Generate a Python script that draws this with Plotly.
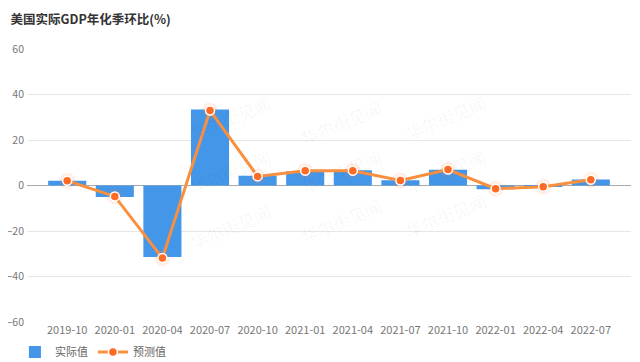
import plotly.graph_objects as go

categories = ["2019-10", "2020-01", "2020-04", "2020-07", "2020-10", "2021-01",
              "2021-04", "2021-07", "2021-10", "2022-01", "2022-04", "2022-07"]
actual = [2.1, -5.0, -31.4, 33.4, 4.3, 6.3, 6.7, 2.3, 6.9, -1.6, -0.6, 2.6]
forecast = [2.1, -4.8, -31.9, 33.0, 4.0, 6.5, 6.5, 2.2, 7.0, -1.4, -0.5, 2.5]
y_ticks = [-60, -40, -20, 0, 20, 40, 60]

fig = go.Figure()
fig.add_trace(go.Bar(
    x=categories, y=actual, name="实际值",
    marker=dict(color="#4496e8", line=dict(width=0)),
))
# glow under markers
fig.add_trace(go.Scatter(
    x=categories, y=forecast, mode="markers", showlegend=False, hoverinfo="skip",
    marker=dict(size=16, color="rgba(255,120,60,0.12)", line=dict(width=0)),
))
fig.add_trace(go.Scatter(
    x=categories, y=forecast, name="预测值", mode="lines+markers",
    line=dict(color="#f89040", width=3),
    marker=dict(size=9, color="#ff6b24", line=dict(color="white", width=1.5)),
))

# watermarks
for cx, cy in [(0.26, 0.86), (0.52, 0.84), (0.77, 0.86),
               (0.26, 0.55), (0.52, 0.55), (0.77, 0.55),
               (0.26, 0.24), (0.52, 0.26), (0.77, 0.28)]:
    fig.add_annotation(
        x=cx, y=cy, xref="paper", yref="paper", text="华尔街见闻",
        showarrow=False, textangle=-22,
        font=dict(size=17, color="rgba(0,0,0,0.045)", family="Noto Sans CJK SC"),
    )

fig.update_layout(
    width=632, height=354,
    margin=dict(l=19, r=9, t=41, b=40, autoexpand=False),
    paper_bgcolor="white", plot_bgcolor="white",
    font=dict(family="Noto Sans CJK SC, Noto Sans, sans-serif", color="#666", size=11),
    title=dict(text="<b>美国实际GDP年化季环比(%)</b>", xref="container", x=0.004, xanchor="left",
               yref="container", y=0.968, yanchor="middle", font=dict(size=12.5, color="#333")),
    bargap=0.2,
    showlegend=True,
    legend=dict(orientation="h", x=-0.02, xanchor="left", y=-0.11, yanchor="middle",
                font=dict(size=11, color="#666"), itemwidth=30),
    xaxis=dict(type="category", showgrid=False, ticks="", tickfont=dict(size=11, color="#777"),
               showline=False, automargin=False),
    yaxis=dict(range=[-60, 60], tickvals=y_ticks, showgrid=True, gridcolor="#e6e6e6",
               gridwidth=1, zeroline=True, zerolinecolor="#aaaaaa", zerolinewidth=1,
               tickfont=dict(size=10.5, color="#777"), ticks="", ticklabelstandoff=2,
               automargin=False),
)

fig.write_html("out.html")
